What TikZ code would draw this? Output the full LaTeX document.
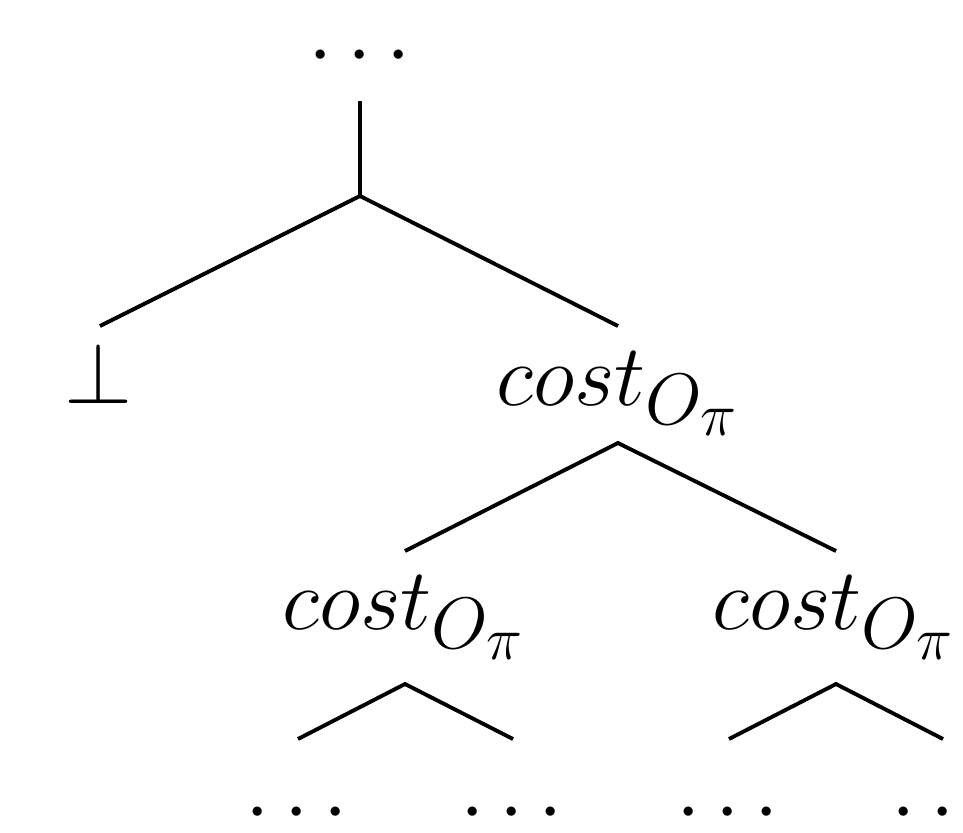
\documentclass[tikz,border=0pt]{standalone}
\begin{document}
\begin{tikzpicture}[x=0.01cm,y=-0.01cm,
  edge/.style={line width=1.1pt, line join=miter},
  lbl/.style={inner sep=0pt, anchor=base, font=\Huge}]
\useasboundingbox (0,0) rectangle (963,832);
\clip (0,0) rectangle (963,832);
% labels
\node[lbl] (top) at (360,76) {$\cdots$};
\node[lbl] (bot) at (99,403) {$\bot$};
\node[lbl] (c1) at (618,405) {$cost_{O_\pi}$};
\node[lbl] (c2) at (404,629) {$cost_{O_\pi}$};
\node[lbl] (c3) at (834,629) {$cost_{O_\pi}$};
\node[lbl] (d1) at (297,833) {$\cdots$};
\node[lbl] (d2) at (512,833) {$\cdots$};
\node[lbl] (d3) at (728,833) {$\cdots$};
\node[lbl] (d4) at (943,833) {$\cdots$};
% junctions
\coordinate (topend) at (360,101);
\coordinate (r) at (360,196);
\coordinate (rl) at (100,326);
\coordinate (rr) at (618,326);
\coordinate (c1j) at (618,443);
\coordinate (c1l) at (405,551);
\coordinate (c1r) at (836,551);
\coordinate (c2j) at (405,684);
\coordinate (c2l) at (298,739);
\coordinate (c2r) at (513,739);
\coordinate (c3j) at (836,684);
\coordinate (c3l) at (729,739);
\coordinate (c3r) at (943,739);
% connectors
\draw[edge] (topend) -- (r);
\draw[edge] (rl) -- (r) -- (rr);
\draw[edge] (c1l) -- (c1j) -- (c1r);
\draw[edge] (c2l) -- (c2j) -- (c2r);
\draw[edge] (c3l) -- (c3j) -- (c3r);
\end{tikzpicture}
\end{document}
